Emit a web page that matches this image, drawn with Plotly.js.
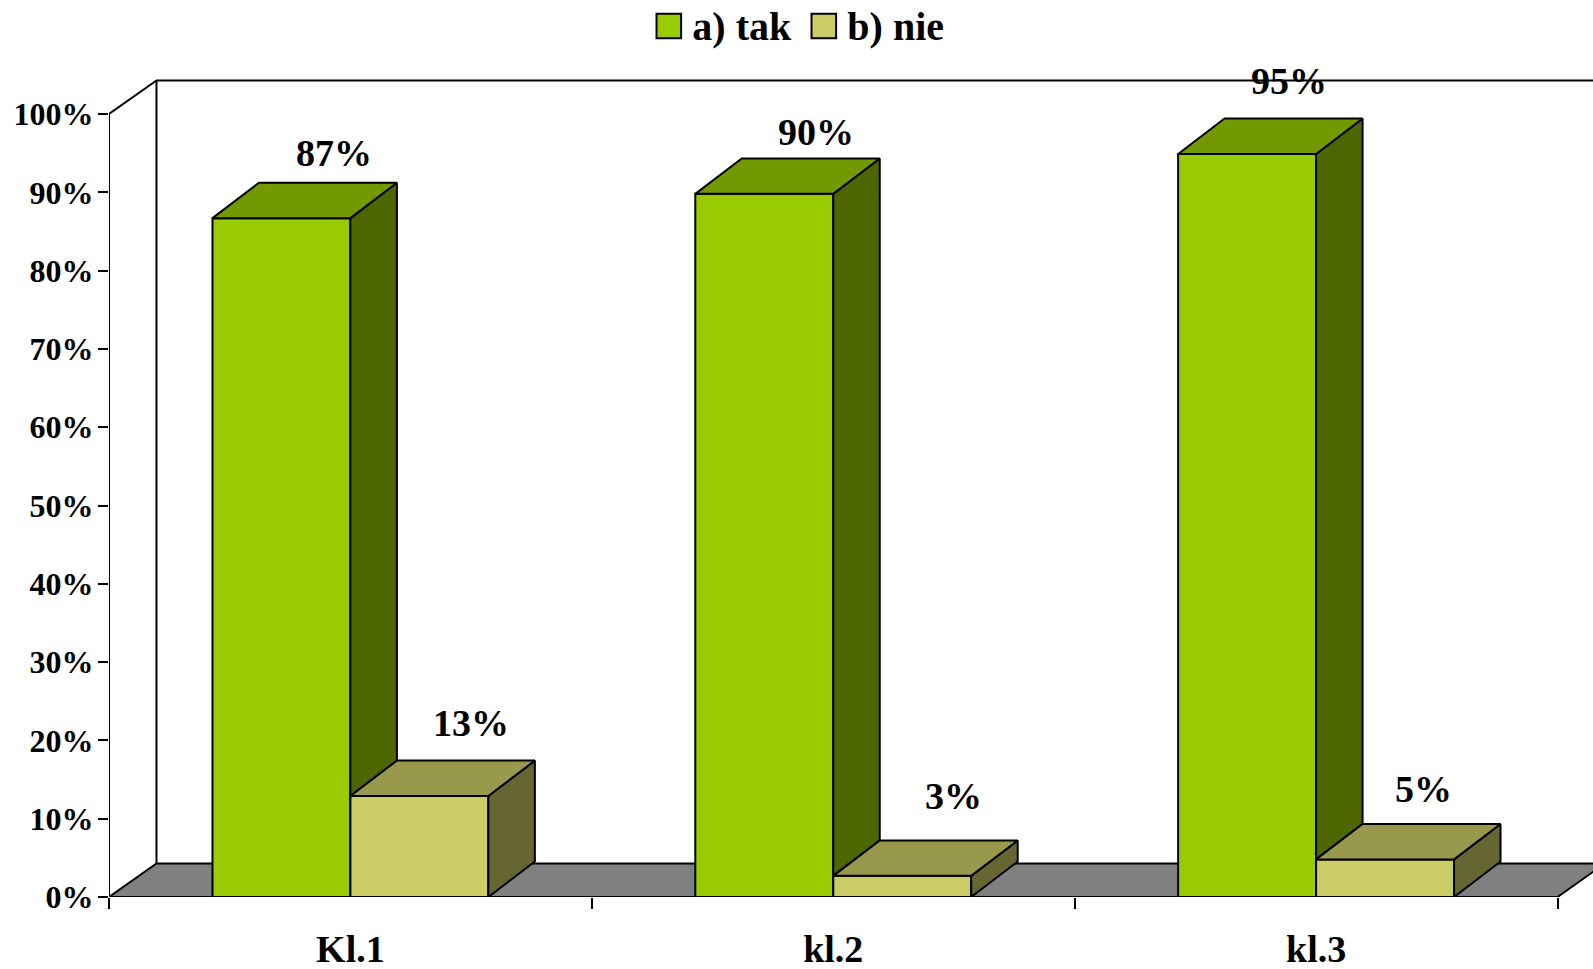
<!DOCTYPE html>
<html>
<head>
<meta charset="utf-8">
<script src="https://cdn.plot.ly/plotly-3.0.1.min.js"></script>
<style>
html,body{margin:0;padding:0;background:#fff;overflow:hidden}
#chart{width:1593px;height:969px}
.legend .legendpoints path{transform:translate(20.5px,2px) scale(2.05);vector-effect:non-scaling-stroke}
</style>
</head>
<body>
<div id="chart"></div>
<script>
// data
const categories = ['Kl.1','kl.2','kl.3'];
const seriesNames = ['a) tak','b) nie'];
const takValues = [86.7, 89.8, 94.9];
const nieValues = [12.9, 2.7, 4.8];
const yTicks = [0,10,20,30,40,50,60,70,80,90,100];

// styles
const FONT = 'Liberation Serif';
const BLACK = '#000';
const col = {
  takFront:'#99CC00', takTop:'#739900', takSide:'#4D6600',
  nieFront:'#CCCC66', nieTop:'#99994D', nieSide:'#666633', floor:'#808080'
};
const LW = 2;

// geometry in axis units
const pxPerPct = 7.83;
const barW = 1/3.5;
const barDX = 46.5/483, barDY = 35.4/pxPerPct;
const wallDX = 47.5/483, wallDY = 33.6/pxPerPct;
const xMin = -0.5, xMax = 2.5, xView = xMin + (1593-108.5)/483;
const yView = (897-60)/pxPerPct;

function polys(list){
  const x=[],y=[];
  list.forEach((p,k)=>{
    if(k){x.push(null);y.push(null);}
    p.forEach(q=>{x.push(q[0]);y.push(q[1]);});
    x.push(p[0][0]);y.push(p[0][1]);
  });
  return {x,y};
}
function face(list,color){
  const d=polys(list);
  return {type:'scatter',mode:'lines',x:d.x,y:d.y,fill:'toself',fillcolor:color,
    line:{color:BLACK,width:LW},showlegend:false,hoverinfo:'skip'};
}
const topFace=(l,r,v)=>[[l,v],[r,v],[r+barDX,v+barDY],[l+barDX,v+barDY]];
const sideFace=(r,v,floorV)=>[[r,v],[r+barDX,v+barDY],[r+barDX,floorV+barDY],[r,floorV]];

const traces=[
  {type:'bar',name:seriesNames[0],x:[0,1,2],y:takValues,marker:{color:col.takFront,line:{color:BLACK,width:LW}},hoverinfo:'skip'},
  {type:'bar',name:seriesNames[1],x:[0,1,2],y:nieValues,marker:{color:col.nieFront,line:{color:BLACK,width:LW}},hoverinfo:'skip'},
  face(takValues.map((v,i)=>sideFace(i,v,nieValues[i])),col.takSide),
  face(takValues.map((v,i)=>topFace(i-barW,i,v)),col.takTop),
  face(nieValues.map((v,i)=>sideFace(i+barW,v,0)),col.nieSide),
  face(nieValues.map((v,i)=>topFace(i,i+barW,v)),col.nieTop),
  {type:'scatter',mode:'lines',x:[xMin,xMin],y:[0,100],line:{color:BLACK,width:LW},cliponaxis:false,showlegend:false,hoverinfo:'skip'},
  {type:'scatter',mode:'lines',x:[xMin,xMax],y:[0,0],line:{color:BLACK,width:LW},cliponaxis:false,showlegend:false,hoverinfo:'skip'}
];

const shapes=[
  {type:'path',layer:'below',xref:'x',yref:'y',fillcolor:col.floor,line:{color:BLACK,width:LW},
   path:`M${xMin},0 L${xMax},0 L${xMax+wallDX},${wallDY} L${xMin+wallDX},${wallDY} Z`},
  {type:'path',layer:'below',xref:'x',yref:'y',line:{color:BLACK,width:LW},
   path:`M${xMin},100 L${xMin+wallDX},${100+wallDY} L${xMax+wallDX},${100+wallDY}`},
  {type:'line',layer:'below',xref:'x',yref:'y',line:{color:BLACK,width:LW},
   x0:xMin+wallDX,x1:xMin+wallDX,y0:wallDY,y1:100+wallDY}
];

// pixel nudges of the data labels relative to the top-front edge of each bar
const takNudge=[[52.5,65.5],[51.5,61.5],[41.5,72.5]];
const nieNudge=[[52,72.5],[51,79.5],[38,70.5]];
function labels(vals,off,nudge){
  return vals.map((v,i)=>({
    x:i+off,y:v,xref:'x',yref:'y',text:Math.round(v)+'%',showarrow:false,
    xanchor:'center',yanchor:'middle',xshift:nudge[i][0],yshift:nudge[i][1],
    font:{family:FONT,size:38,color:BLACK,weight:'bold'}
  }));
}

const layout={
  width:1593,height:969,
  margin:{l:108.5,r:0,t:60,b:72,pad:0,autoexpand:false},
  paper_bgcolor:'#fff',plot_bgcolor:'#fff',
  barmode:'group',bargap:3/7,bargroupgap:0,
  showlegend:true,
  legend:{orientation:'h',x:(648-108.5)/1484.5,y:1+36/837,xanchor:'left',yanchor:'middle',
    font:{family:FONT,size:40,color:BLACK,weight:'bold'},itemwidth:34,entrywidth:106,entrywidthmode:'pixels',
    bgcolor:'rgba(0,0,0,0)',itemclick:false,itemdoubleclick:false},
  xaxis:{type:'linear',range:[xMin,xView],showgrid:false,zeroline:false,showline:false,
    tickmode:'array',tickvals:[0,1,2],ticktext:categories,ticks:'',ticklabelstandoff:26,
    tickfont:{family:FONT,size:38,color:BLACK,weight:'bold'},
    minor:{tickmode:'array',tickvals:[xMin,0.5,1.5,xMax],ticks:'outside',ticklen:11,tickwidth:LW,tickcolor:BLACK,showgrid:false}},
  yaxis:{range:[0,yView],showgrid:false,zeroline:false,showline:false,
    tickmode:'array',tickvals:yTicks,ticktext:yTicks.map(v=>v+'%'),
    ticks:'outside',ticklen:10,tickwidth:LW,tickcolor:BLACK,ticklabelstandoff:-2,
    tickfont:{family:FONT,size:32,color:BLACK,weight:'bold'}},
  shapes:shapes,
  annotations:[...labels(takValues,-barW/2,takNudge),...labels(nieValues,barW/2,nieNudge)]
};
Plotly.newPlot('chart',traces,layout,{displayModeBar:false,responsive:false});
</script>
</body>
</html>
